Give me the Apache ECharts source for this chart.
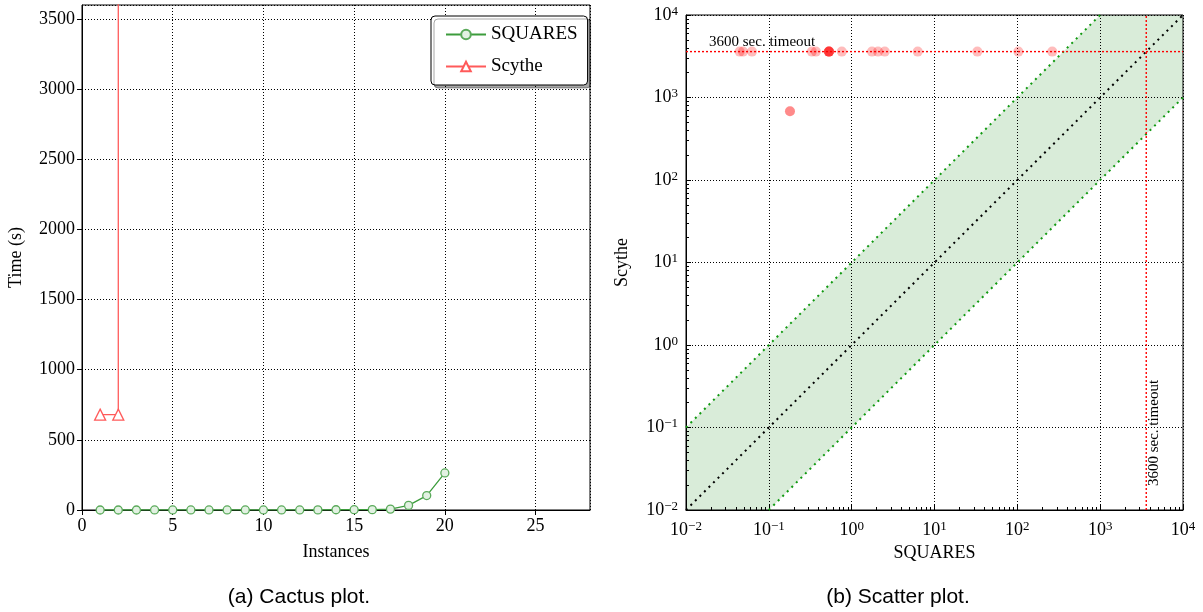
<!DOCTYPE html>
<html>
<head>
<meta charset="utf-8">
<script src="https://cdn.jsdelivr.net/npm/echarts@6/dist/echarts.min.js"></script>
<style>
html,body{margin:0;padding:0;background:#fff;}
#chart{width:1203px;height:612px;}
</style>
</head>
<body>
<div id="chart"></div>
<script>
// ---- Data ----
// Cactus plot: instance index and sorted run times (s)
const instances = [1,2,3,4,5,6,7,8,9,10,11,12,13,14,15,16,17,18,19,20];
const squaresTimes = [0.0445,0.0488,0.0626,0.18,0.18,0.331,0.37,0.532,0.532,0.532,0.532,0.532,0.76,1.76,2.08,2.51,6.27,32.9,102.8,264];
const scytheInstances = [1,2,2];
const scytheTimes = [680,680,36000];   // last point: beyond timeout (drawn off the top)

// Scatter plot: per-instance times (SQUARES on x, Scythe on y)
const scatterSquares = [0.0445,0.0488,0.0626,0.18,0.18,0.331,0.37,0.532,0.532,0.532,0.532,0.532,0.76,1.76,2.08,2.51,6.27,32.9,102.8,264];
const scatterScythe  = [3600,3600,3600,680,680,3600,3600,3600,3600,3600,3600,3600,3600,3600,3600,3600,3600,3600,3600,3600];
const timeout = 3600;
const logMin = 0.01, logMax = 10000;
// band between y = x/10 and y = 10x (polygon vertices in data space)
const bandX = [0.01, 0.01, 1000, 10000, 10000, 0.1];
const bandY = [0.01, 0.1, 10000, 10000, 1000, 0.01];
const diagX = [0.01, 10000], diagY = [0.01, 10000];
const upperX = [0.01, 1000], upperY = [0.1, 10000];
const lowerX = [0.1, 10000], lowerY = [0.01, 1000];
// tick settings
const cactusXTicks = {min: 0, max: 28, interval: 5};
const cactusYTicks = {min: 0, max: 3600, interval: 500};

// ---- Chart ----
const SERIF = 'Liberation Serif';
const SANS = 'Liberation Sans';
const green = '#3c9c3c';
const red = '#ff5a5a';
const gridLine = {show: true, lineStyle: {color: '#000', type: [1, 2], width: 1}};
const zip = (a, b) => a.map((v, i) => [v, b[i]]);

function supLabel(v) {
  const e = Math.round(Math.log10(v));
  return '10{sup|' + (e < 0 ? '\u2212' + (-e) : e) + '}';
}
const logLabel = {
  color: '#000', fontFamily: SERIF, fontSize: 18,
  formatter: supLabel,
  rich: {sup: {fontFamily: SERIF, fontSize: 13, verticalAlign: 'top', padding: [0, 0, 7, 0], color: '#000'}}
};
const numLabel = {color: '#000', fontFamily: SERIF, fontSize: 18, showMaxLabel: false, formatter: v => String(v)};
const axisLine = {show: true, onZero: false, lineStyle: {color: '#000', width: 1}};
const nameStyle = {color: '#000', fontFamily: SERIF, fontSize: 18};

const chart = echarts.init(document.getElementById('chart'), null, {renderer: 'canvas'});
const option = {
  animation: false,
  backgroundColor: '#fff',
  grid: [
    {left: 82, top: 5, width: 508, height: 505, show: true, borderColor: '#000', borderWidth: 1, backgroundColor: 'transparent'},
    {left: 686, top: 15, width: 497, height: 495, show: true, borderColor: '#000', borderWidth: 1, backgroundColor: 'transparent'}
  ],
  legend: {
    data: ['SQUARES', 'Scythe'],
    orient: 'vertical',
    left: 431, top: 16,
    padding: [9, 10, 9, 14],
    itemWidth: 40, itemHeight: 12, itemGap: 13,
    textStyle: {color: '#000', fontFamily: SERIF, fontSize: 19},
    backgroundColor: '#fff', borderColor: '#000', borderWidth: 1, borderRadius: 4,
    shadowColor: 'rgba(0,0,0,0.35)', shadowOffsetX: 3, shadowOffsetY: 3, shadowBlur: 0
  },
  xAxis: [
    {type: 'value', gridIndex: 0, min: cactusXTicks.min, max: cactusXTicks.max, interval: cactusXTicks.interval,
     axisLine, axisTick: {show: true, inside: false, length: 5, lineStyle: {color: '#000'}},
     axisLabel: Object.assign({margin: 7}, numLabel), splitLine: gridLine,
     name: 'Instances', nameLocation: 'middle', nameGap: 33, nameTextStyle: nameStyle},
    {type: 'log', logBase: 10, gridIndex: 1, min: logMin, max: logMax,
     axisLine, axisTick: {show: true, inside: true, length: 5, lineStyle: {color: '#000'}},
     minorTick: {show: true, splitNumber: 9, length: 3, lineStyle: {color: '#000'}},
     axisLabel: Object.assign({margin: 10}, logLabel), splitLine: gridLine,
     name: 'SQUARES', nameLocation: 'middle', nameGap: 33, nameTextStyle: nameStyle}
  ],
  yAxis: [
    {type: 'value', gridIndex: 0, min: cactusYTicks.min, max: cactusYTicks.max, interval: cactusYTicks.interval,
     axisLine, axisTick: {show: true, inside: false, length: 5, lineStyle: {color: '#000'}},
     axisLabel: Object.assign({margin: 7}, numLabel), splitLine: gridLine,
     name: 'Time (s)', nameLocation: 'middle', nameGap: 57, nameTextStyle: nameStyle},
    {type: 'log', logBase: 10, gridIndex: 1, min: logMin, max: logMax,
     axisLine, axisTick: {show: true, inside: true, length: 5, lineStyle: {color: '#000'}},
     minorTick: {show: true, splitNumber: 9, length: 3, lineStyle: {color: '#000'}},
     axisLabel: Object.assign({margin: 8}, logLabel), splitLine: gridLine,
     name: 'Scythe', nameLocation: 'middle', nameGap: 55, nameTextStyle: nameStyle}
  ],
  series: [
    {name: 'SQUARES', type: 'line', xAxisIndex: 0, yAxisIndex: 0,
     data: zip(instances, squaresTimes),
     symbol: 'circle', symbolSize: 8,
     lineStyle: {color: green, width: 1.3},
     itemStyle: {color: '#e2f1e2', borderColor: '#5aaa5a', borderWidth: 1.3},
     z: 4},
    {name: 'Scythe', type: 'line', xAxisIndex: 0, yAxisIndex: 0,
     data: zip(scytheInstances, scytheTimes).map((p, i) => i < 2 ? p : {value: p, symbol: 'none'}),
     symbol: 'triangle', symbolSize: 11, clip: true,
     lineStyle: {color: red, width: 1.3},
     itemStyle: {color: '#fff', borderColor: red, borderWidth: 1.3},
     z: 4},
    // green band on the scatter plot
    {type: 'custom', xAxisIndex: 1, yAxisIndex: 1, z: -1, silent: true,
     data: [[1, 1]],
     renderItem: function (params, api) {
       const pts = bandX.map((x, i) => api.coord([x, bandY[i]]));
       return {type: 'polygon', shape: {points: pts}, style: {fill: 'rgba(0,128,0,0.15)', stroke: 'none'}};
     }},
    {type: 'line', xAxisIndex: 1, yAxisIndex: 1, data: zip(diagX, diagY), symbol: 'none', silent: true,
     lineStyle: {color: '#000', width: 2, type: [2, 4.4]}, z: 3},
    {type: 'line', xAxisIndex: 1, yAxisIndex: 1, data: zip(upperX, upperY), symbol: 'none', silent: true,
     lineStyle: {color: '#119911', width: 2, type: [2, 4.4]}, z: 3},
    {type: 'line', xAxisIndex: 1, yAxisIndex: 1, data: zip(lowerX, lowerY), symbol: 'none', silent: true,
     lineStyle: {color: '#119911', width: 2, type: [2, 4.4]}, z: 3},
    {type: 'line', xAxisIndex: 1, yAxisIndex: 1, data: [[logMin, timeout], [logMax, timeout]], symbol: 'none', silent: true,
     lineStyle: {color: '#ff0000', width: 1.4, type: [2, 2]}, z: 3},
    {type: 'line', xAxisIndex: 1, yAxisIndex: 1, data: [[timeout, logMin], [timeout, logMax]], symbol: 'none', silent: true,
     lineStyle: {color: '#ff0000', width: 1.4, type: [2, 2]}, z: 3},
    {type: 'scatter', xAxisIndex: 1, yAxisIndex: 1, data: zip(scatterSquares, scatterScythe),
     symbol: 'circle', symbolSize: 10, itemStyle: {color: 'rgba(255,0,0,0.33)'}, z: 5}
  ],
  graphic: [
    {type: 'text', left: 709, top: 35, style: {text: '3600 sec. timeout', font: '15px "Liberation Serif"', fill: '#000'}},
    {type: 'text', x: 1154, y: 433, rotation: Math.PI / 2,
     style: {text: '3600 sec. timeout', font: '15px "Liberation Serif"', fill: '#000', align: 'center', verticalAlign: 'middle'}},
    {type: 'text', x: 299, y: 597, style: {text: '(a) Cactus plot.', font: '21px "Liberation Sans"', fill: '#000', align: 'center', verticalAlign: 'middle'}},
    {type: 'text', x: 898, y: 597, style: {text: '(b) Scatter plot.', font: '21px "Liberation Sans"', fill: '#000', align: 'center', verticalAlign: 'middle'}}
  ]
};
chart.setOption(option);
</script>
</body>
</html>
